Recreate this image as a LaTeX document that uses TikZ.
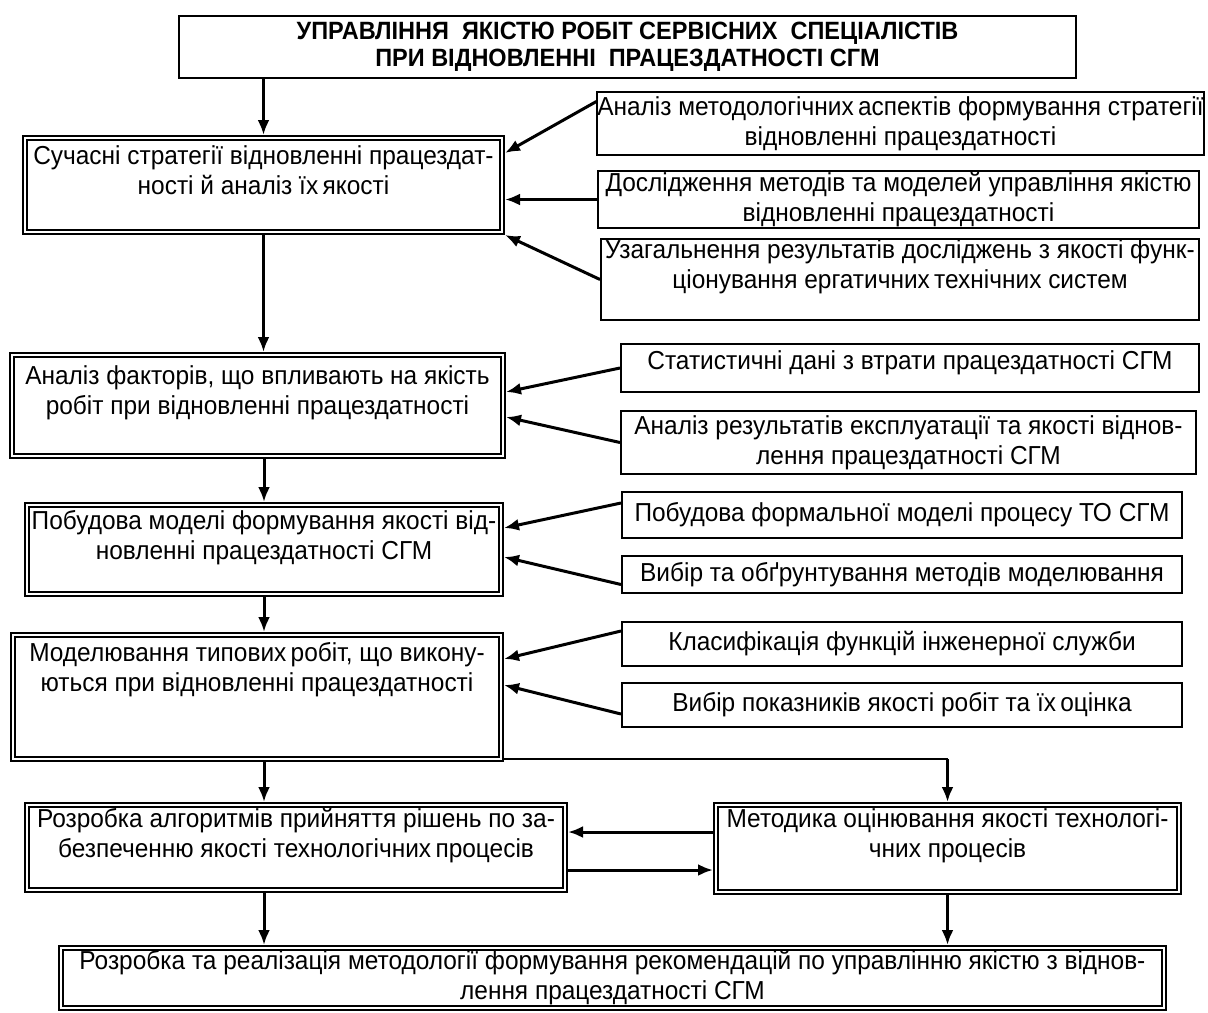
\documentclass[tikz,border=0pt]{standalone}
\usepackage{fontspec}
\setmainfont{Liberation Sans}[FakeStretch=0.94]
\usetikzlibrary{positioning,arrows.meta}

\begin{document}
\begin{tikzpicture}[x=0.5pt, y=-0.5pt,
	txt/.style={font=\fontsize{13}{15}\selectfont},
	tbox/.style={draw, line width=1pt, align=center, inner sep=0pt, font=\bfseries\fontsize{12.5}{13.5}\selectfont},
	sbox/.style={draw, line width=0.9pt, align=center, inner sep=0pt, txt},
	dbox/.style={draw, double, double distance=1.2pt, line width=0.8pt, outer sep=1.4pt, align=center, inner sep=0pt, txt},
	arr/.style={line width=1.5pt, -{Latex[length=7.5pt,width=6pt]}},
	thinline/.style={line width=0.9pt}]
	\useasboundingbox (0,0) rectangle (1208,1012);
	\node[tbox, minimum width=448.5pt, minimum height=31pt] (title) at (627.5,47) {УПРАВЛІННЯ~ ЯКІСТЮ РОБІТ СЕРВІСНИХ~ СПЕЦІАЛІСТІВ\\ПРИ ВІДНОВЛЕННІ~ ПРАЦЕЗДАТНОСТІ СГМ};
	\node[dbox, minimum width=238.7pt, minimum height=47.2pt] (l1) at (263.5,185) {Сучасні стратегії відновленні працездат-\\ності й аналіз їх\,якості\\ \mbox{}};
	\node[dbox, minimum width=245.7pt, minimum height=50.7pt] (l2) at (257.5,405.5) {Аналіз факторів, що впливають на якість\\робіт при відновленні працездатності\\ \mbox{}};
	\node[dbox, minimum width=237.2pt, minimum height=44.7pt] (l3) at (264,549.5) {Побудова моделі формування якості від-\\новленні працездатності СГМ\\ \mbox{}};
	\node[dbox, minimum width=244.2pt, minimum height=62.2pt] (l4) at (257,697) {Моделювання типових\,робіт, що викону-\\ються при відновленні працездатності\\ \mbox{}\\ \mbox{}};
	\node[dbox, minimum width=269.2pt, minimum height=42.7pt] (l5) at (296,847.5) {Розробка алгоритмів прийняття рішень по за-\\безпеченню якості технологічних\,процесів\\ \mbox{}};
	\node[dbox, minimum width=231.7pt, minimum height=43.7pt] (m) at (947.5,848.5) {Методика оцінювання якості технологі-\\чних процесів\\ \mbox{}};
	\node[dbox, minimum width=551.7pt, minimum height=30.2pt] (bot) at (612.5,978) {Розробка та реалізація методології формування рекомендацій по управлінню якістю з віднов-\\лення працездатності СГМ};
	\node[sbox, minimum width=301.6pt, minimum height=31.6pt] (r1) at (900.5,123.5) {Аналіз методологічних\,аспектів формування стратегії\\відновленні працездатності};
	\node[sbox, minimum width=300.6pt, minimum height=28.6pt] (r2) at (898.5,199.5) {Дослідження методів та моделей управління якістю\\відновленні працездатності};
	\node[sbox, minimum width=299.1pt, minimum height=40.6pt] (r3) at (900,279.5) {Узагальнення результатів досліджень з якості функ-\\ціонування ергатичних\,технічних систем\\ \mbox{}};
	\node[sbox, minimum width=289.1pt, minimum height=24.1pt] (r4) at (910,368) {Статистичні дані з втрати працездатності СГМ\\[-7pt]\mbox{}};
	\node[sbox, minimum width=287.6pt, minimum height=31.6pt] (r5) at (908.5,442.5) {Аналіз результатів експлуатації та якості віднов-\\лення працездатності СГМ};
	\node[sbox, minimum width=280.1pt, minimum height=23.1pt] (r6) at (902,515) {Побудова формальної моделі процесу ТО СГМ};
	\node[sbox, minimum width=280.1pt, minimum height=18.6pt] (r7) at (902,574.5) {Вибір та обґрунтування методів моделювання};
	\node[sbox, minimum width=280.1pt, minimum height=22.1pt] (r8) at (902,644) {Класифікація функцій інженерної служби};
	\node[sbox, minimum width=280.1pt, minimum height=22.1pt] (r9) at (902,705) {Вибір показників якості робіт та їх\,оцінка};
	\coordinate (bend) at (947.5,759);
	\draw[arr] (l1.north |- title.south) -- (l1.north);
	\draw[arr] (l1.south) -- (l1.south |- l2.north);
	\draw[arr] (l3.north |- l2.south) -- (l3.north);
	\draw[arr] (l3.south) -- (l3.south |- l4.north);
	\draw[arr] (l3.south |- l4.south) -- (l3.south |- l5.north);
	\draw[arr] (l3.south |- l5.south) -- (l3.south |- bot.north);
	\draw[thinline] (l4.east |- bend) -- (bend);
	\draw[arr] (bend) -- (m.north);
	\draw[arr] (m.south) -- (m.south |- bot.north);
	\draw[arr] ([yshift=8.25pt]m.west) -- ([yshift=8.25pt]m.west -| l5.east);
	\draw[arr] ([yshift=-11.25pt]l5.east) -- ([yshift=-11.25pt]l5.east -| m.west);
	\draw[arr] ([yshift=11pt]r1.west) -- ([yshift=16pt]l1.east);
	\draw[arr] (r2.west) -- (r2.west -| l1.east);
	\draw[arr] (r3.west) -- (l1.south east);
	\draw[arr] (r4.west) -- ([yshift=6.75pt]l2.east);
	\draw[arr] (r5.west) -- ([yshift=-5.75pt]l2.east);
	\draw[arr] ([yshift=6pt]r6.west) -- ([yshift=10.75pt]l3.east);
	\draw[arr] ([yshift=-5pt]r7.west) -- ([yshift=-3.75pt]l3.east);
	\draw[arr] ([yshift=6.5pt]r8.west) -- ([yshift=19pt]l4.east);
	\draw[arr] ([yshift=-4.5pt]r9.west) -- ([yshift=6pt]l4.east);
\end{tikzpicture}
\end{document}
